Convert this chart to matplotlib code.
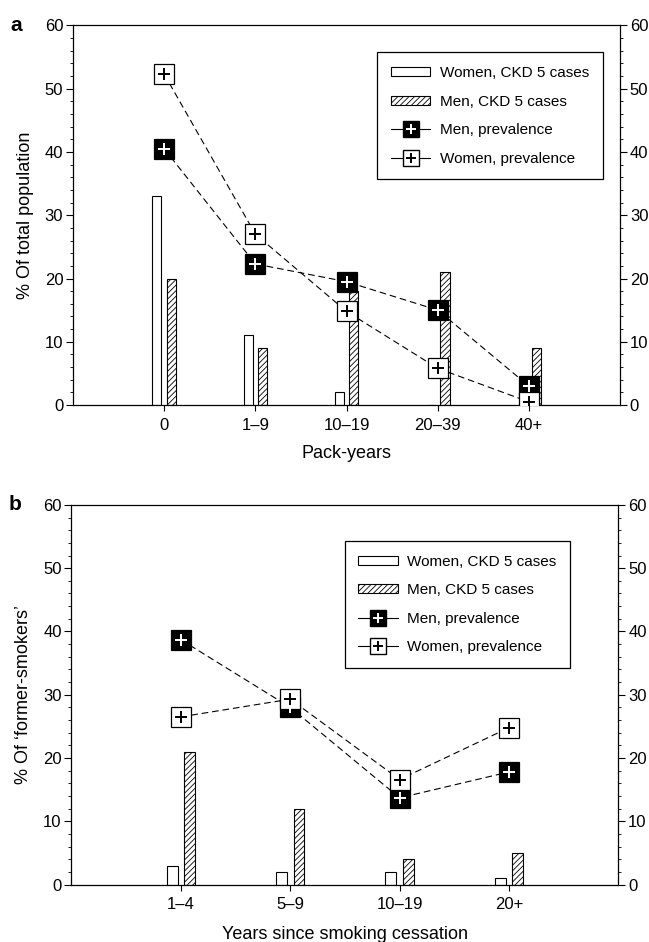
import matplotlib.pyplot as plt
from matplotlib.lines import Line2D
from matplotlib.patches import Patch
from matplotlib.ticker import MultipleLocator

plt.rcParams['font.family'] = ['Liberation Sans', 'DejaVu Sans']
plt.rcParams['font.size'] = 12
plt.rcParams['hatch.linewidth'] = 0.6

# panel a - pack-years
cats_a = ['0', '1\u20139', '10\u201319', '20\u201339', '40+']
women_ckd_a = [33, 11, 2, 0, 0]
men_ckd_a = [20, 9, 18, 21, 9]
men_prev_a = [40.5, 22.3, 19.5, 15.0, 3.0]
women_prev_a = [52.3, 27.0, 14.8, 5.8, 0.5]

# panel b - years since cessation
cats_b = ['1\u20134', '5\u20139', '10\u201319', '20+']
women_ckd_b = [3, 2, 2, 1]
men_ckd_b = [21, 12, 4, 5]
men_prev_b = [38.7, 28.0, 13.7, 17.8]
women_prev_b = [26.5, 29.3, 16.6, 24.8]


def panel(ax, cats, w_ckd, m_ckd, m_prev, w_prev, xlabel, ylabel, letter, xpad):
    x = list(range(len(cats)))
    bw = 0.1
    off = 0.08
    ax.bar([i - off for i in x], w_ckd, bw, color='white', edgecolor='black',
           linewidth=0.8, zorder=2)
    ax.bar([i + off for i in x], m_ckd, bw, color='white', edgecolor='black',
           hatch='//////', linewidth=0.8, zorder=2)
    for vals, face, pc in [(m_prev, 'black', 'white'), (w_prev, 'white', 'black')]:
        ax.plot(x, vals, ls=(0, (6, 3.5)), color='black', lw=0.8, zorder=3)
        ax.plot(x, vals, ls='none', marker='s', ms=15, mfc=face, mec='black',
                mew=0.9, zorder=4)
        ax.plot(x, vals, ls='none', marker='+', ms=8, mec=pc, mew=1.4, zorder=5)

    ax.set_xlim(-1, len(cats))
    ax.set_ylim(0, 60)
    ax.set_xticks(x)
    ax.set_xticklabels(cats)
    ax.yaxis.set_major_locator(MultipleLocator(10))
    ax.yaxis.set_minor_locator(MultipleLocator(2))
    ax.tick_params(axis='y', which='both', left=True, right=True,
                   labelleft=True, labelright=True, direction='out')
    ax.tick_params(axis='y', which='major', length=5, width=0.8, pad=2)
    ax.tick_params(axis='y', which='minor', length=2.5, width=0.6)
    ax.tick_params(axis='x', length=4, width=0.8, pad=5)
    for s in ax.spines.values():
        s.set_linewidth(0.9)
    ax.set_xlabel(xlabel, fontsize=13, labelpad=xpad)
    ax.set_ylabel(ylabel, fontsize=13, labelpad=8)
    ax.text(-0.115, 1.0, letter, transform=ax.transAxes, fontsize=15,
            fontweight='bold', va='center', ha='left')

    handles = [
        Patch(facecolor='white', edgecolor='black', linewidth=0.8),
        Patch(facecolor='white', edgecolor='black', hatch='//////', linewidth=0.8),
        (Line2D([], [], color='black', lw=0.8, marker='s', ms=12, mfc='black', mec='black'),
         Line2D([], [], ls='none', marker='+', ms=7, mec='white', mew=1.4)),
        (Line2D([], [], color='black', lw=0.8, marker='s', ms=12, mfc='white', mec='black'),
         Line2D([], [], ls='none', marker='+', ms=7, mec='black', mew=1.4)),
    ]
    labels = ['Women, CKD 5 cases', 'Men, CKD 5 cases',
              'Men, prevalence', 'Women, prevalence']
    return handles, labels


def add_legend(ax, h, l, anchor):
    leg = ax.legend(h, l, loc='upper right', bbox_to_anchor=anchor,
                    fancybox=False, edgecolor='black', framealpha=1,
                    fontsize=11, handlelength=2.6, handleheight=0.55,
                    labelspacing=0.95, borderpad=0.9, borderaxespad=0,
                    handletextpad=0.6)
    leg.get_frame().set_linewidth(0.9)


fig = plt.figure(figsize=(6.49, 9.42), dpi=100)
ax1 = fig.add_axes([0.1125, 0.570, 0.843, 0.403])
ax2 = fig.add_axes([0.110, 0.061, 0.843, 0.403])

h, l = panel(ax1, cats_a, women_ckd_a, men_ckd_a, men_prev_a, women_prev_a,
             'Pack-years', '% Of total population', 'a', 9)
add_legend(ax1, h, l, (0.968, 0.929))

h, l = panel(ax2, cats_b, women_ckd_b, men_ckd_b, men_prev_b, women_prev_b,
             'Years since smoking cessation', '% Of \u2018former-smokers\u2019', 'b', 10)
add_legend(ax2, h, l, (0.912, 0.905))

fig.savefig('out.png', dpi=100)
